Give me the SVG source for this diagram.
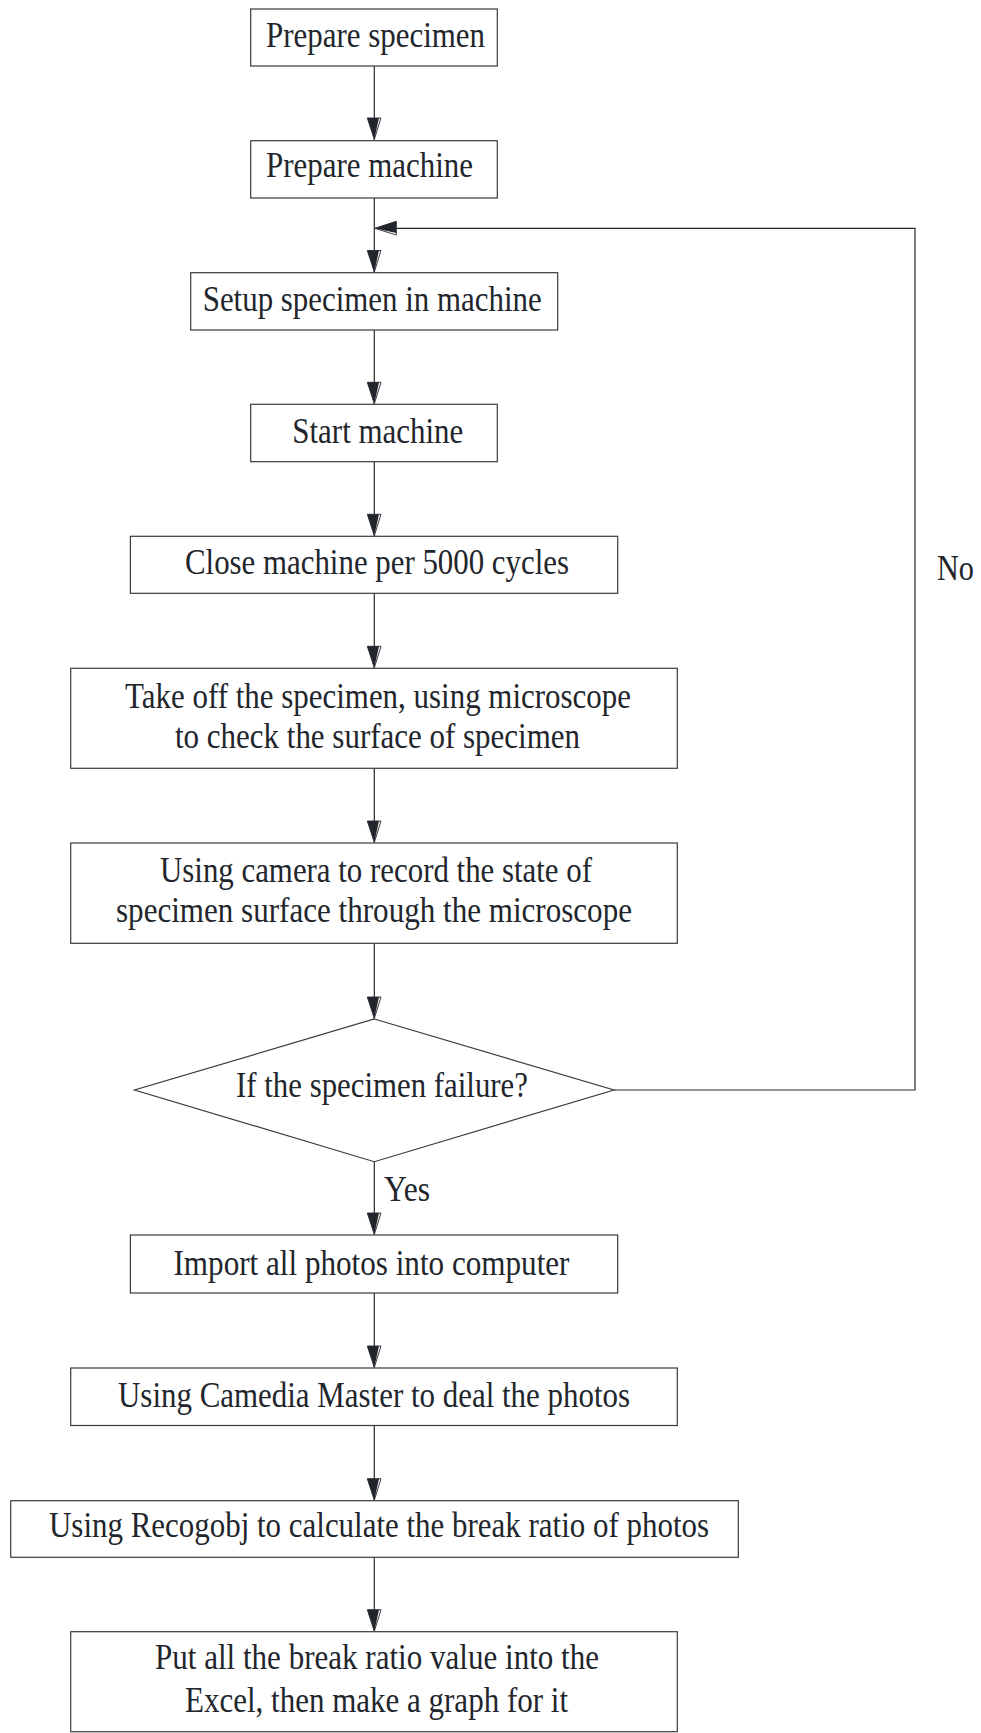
<svg xmlns="http://www.w3.org/2000/svg" width="981" height="1733" viewBox="0 0 981 1733">
<style>
.box{fill:#fff;stroke:#3a3a3a;stroke-width:1.2}
.t{font-family:"Liberation Serif","Times New Roman",serif;font-size:35px;fill:#22262c}
.c{fill:none;stroke:#2a2a2a;stroke-width:1.2}
</style>
<defs>
<marker id="arr" markerUnits="userSpaceOnUse" orient="auto" overflow="visible" refX="0" refY="0" markerWidth="1" markerHeight="1">
<path d="M0,0 L-21.5,7 L-21.5,-6.7 Z" fill="#fff" stroke="#22262c" stroke-width="0.9"/>
<path d="M0,0 L-21.5,7 L-21.5,-4.7 Z" fill="#22262c"/>
</marker>
</defs>
<rect width="981" height="1733" fill="#fff"/>
<g id="connectors">
<path class="c" d="M374.3,66 V139.5" marker-end="url(#arr)"/>
<path class="c" d="M374.3,198 V272" marker-end="url(#arr)"/>
<path class="c" d="M374.3,330 V403.8" marker-end="url(#arr)"/>
<path class="c" d="M374.3,461.7 V535.8" marker-end="url(#arr)"/>
<path class="c" d="M374.3,593.3 V667.8" marker-end="url(#arr)"/>
<path class="c" d="M374.3,768.3 V842.5" marker-end="url(#arr)"/>
<path class="c" d="M374.3,943.3 V1018.5" marker-end="url(#arr)"/>
<path class="c" d="M374.3,1161.7 V1234.5" marker-end="url(#arr)"/>
<path class="c" d="M374.3,1293 V1367.5" marker-end="url(#arr)"/>
<path class="c" d="M374.3,1425.5 V1500.2" marker-end="url(#arr)"/>
<path class="c" d="M374.3,1557.3 V1631.2" marker-end="url(#arr)"/>
<path class="c" d="M614,1090 H915 V228.3 H374.8" marker-end="url(#arr)"/>
<text class="t" x="384" y="1201" textLength="46" lengthAdjust="spacingAndGlyphs">Yes</text>
<text class="t" x="937" y="580" textLength="37" lengthAdjust="spacingAndGlyphs">No</text>
</g>
<g id="n1">
<rect class="box" x="250.7" y="9" width="246.6" height="57"/>
<text class="t" x="266" y="46.7" textLength="219" lengthAdjust="spacingAndGlyphs">Prepare specimen</text>
</g>
<g id="n2">
<rect class="box" x="250.7" y="140.7" width="246.6" height="57.3"/>
<text class="t" x="266" y="176.7" textLength="207" lengthAdjust="spacingAndGlyphs">Prepare machine</text>
</g>
<g id="n3">
<rect class="box" x="190.7" y="272.7" width="367" height="57.3"/>
<text class="t" x="202.7" y="310.7" textLength="339" lengthAdjust="spacingAndGlyphs">Setup specimen in machine</text>
</g>
<g id="n4">
<rect class="box" x="250.7" y="404.3" width="246.6" height="57.4"/>
<text class="t" x="292.3" y="442.7" textLength="171" lengthAdjust="spacingAndGlyphs">Start machine</text>
</g>
<g id="n5">
<rect class="box" x="130.4" y="536.3" width="487.3" height="57"/>
<text class="t" x="185" y="574" textLength="384" lengthAdjust="spacingAndGlyphs">Close machine per 5000 cycles</text>
</g>
<g id="n6">
<rect class="box" x="70.7" y="668.3" width="606.6" height="100"/>
<text class="t" x="125" y="708.3" textLength="506" lengthAdjust="spacingAndGlyphs">Take off the specimen, using microscope</text>
<text class="t" x="175" y="748.3" textLength="405" lengthAdjust="spacingAndGlyphs">to check the surface of specimen</text>
</g>
<g id="n7">
<rect class="box" x="70.7" y="843" width="606.6" height="100.3"/>
<text class="t" x="160" y="881.7" textLength="432" lengthAdjust="spacingAndGlyphs">Using camera to record the state of</text>
<text class="t" x="116" y="921.7" textLength="516" lengthAdjust="spacingAndGlyphs">specimen surface through the microscope</text>
</g>
<g id="n8">
<polygon class="box" points="374.3,1019 614,1090 374.3,1161.7 134.5,1090"/>
<text class="t" x="236" y="1097.3" textLength="292" lengthAdjust="spacingAndGlyphs">If the specimen failure?</text>
</g>
<g id="n9">
<rect class="box" x="130.4" y="1235" width="487.3" height="58"/>
<text class="t" x="173.5" y="1275" textLength="396" lengthAdjust="spacingAndGlyphs">Import all photos into computer</text>
</g>
<g id="n10">
<rect class="box" x="70.7" y="1368" width="606.6" height="57.5"/>
<text class="t" x="118" y="1406.7" textLength="512" lengthAdjust="spacingAndGlyphs">Using Camedia Master to deal the photos</text>
</g>
<g id="n11">
<rect class="box" x="10.7" y="1500.7" width="727.6" height="56.6"/>
<text class="t" x="49" y="1536.7" textLength="660" lengthAdjust="spacingAndGlyphs">Using Recogobj to calculate the break ratio of photos</text>
</g>
<g id="n12">
<rect class="box" x="70.7" y="1631.7" width="606.6" height="100"/>
<text class="t" x="155" y="1669" textLength="444" lengthAdjust="spacingAndGlyphs">Put all the break ratio value into the</text>
<text class="t" x="185" y="1711.7" textLength="383" lengthAdjust="spacingAndGlyphs">Excel, then make a graph for it</text>
</g>
</svg>
